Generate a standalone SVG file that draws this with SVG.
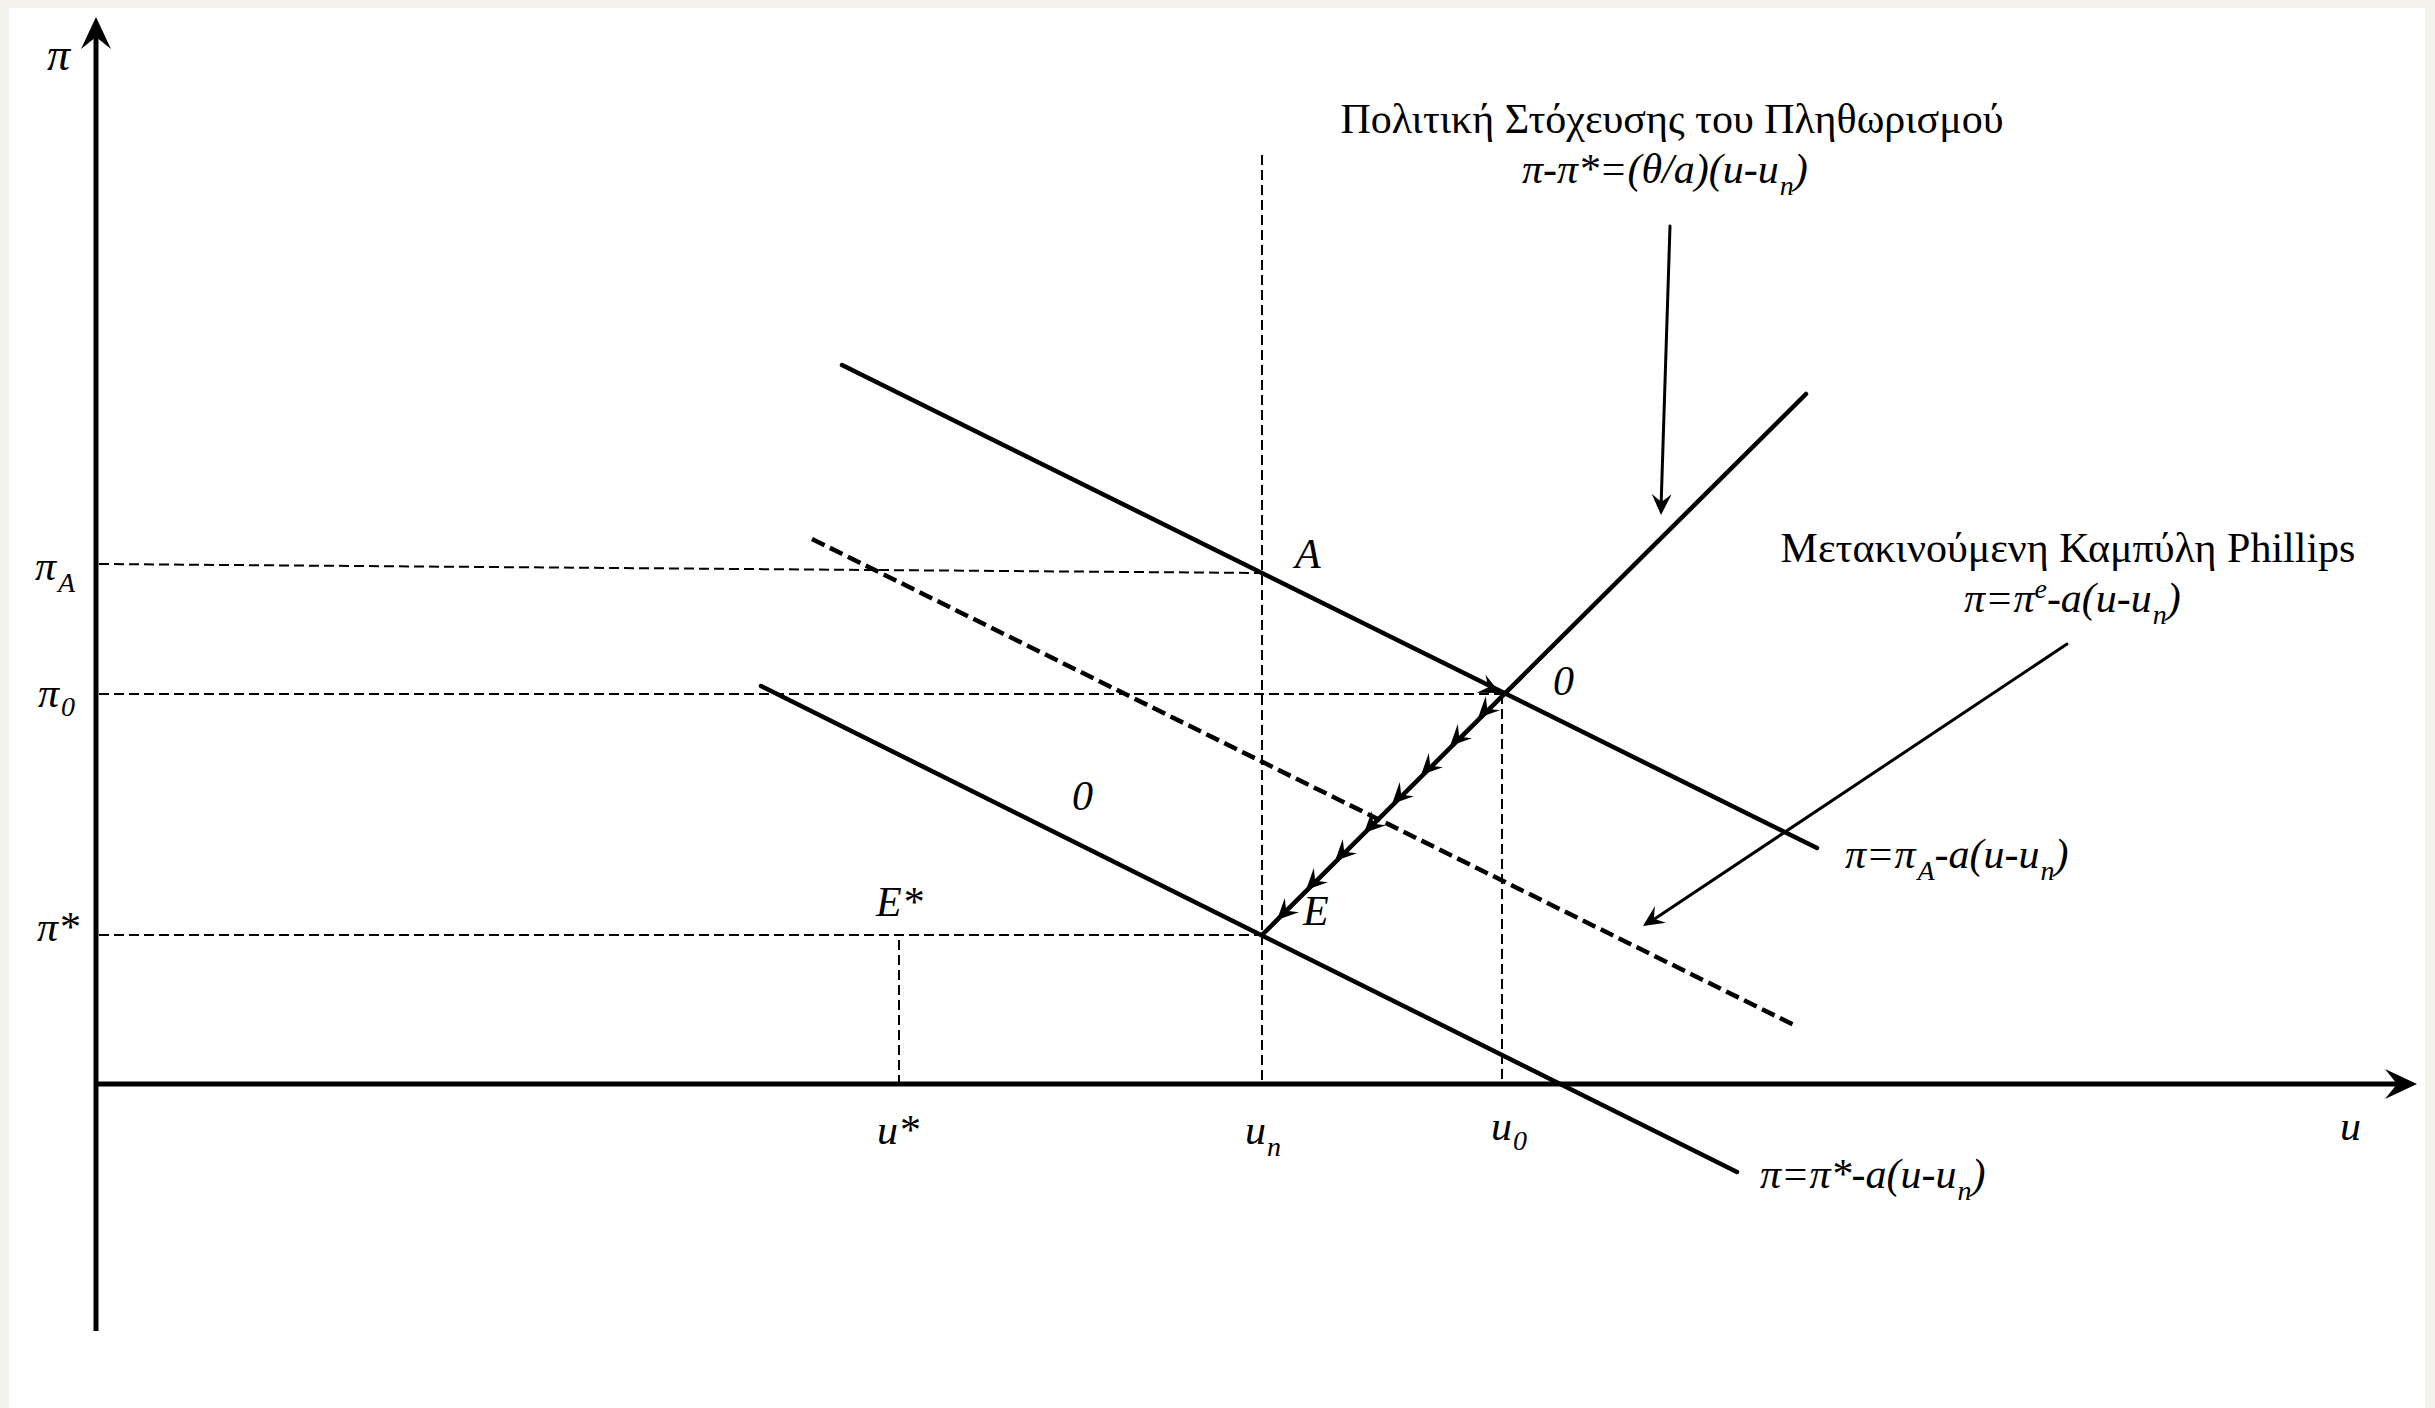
<svg xmlns="http://www.w3.org/2000/svg" xmlns:xlink="http://www.w3.org/1999/xlink" width="2435" height="1408" viewBox="0 0 2435 1408">
<style>
.t{font-family:"Liberation Serif","Times New Roman",serif;font-size:42px;fill:#000}
.m{font-family:"Liberation Serif","Times New Roman",serif;font-size:42px;font-style:italic;fill:#000}
.s{font-size:28px}
.axis{stroke:#000;stroke-width:5;fill:none}
.curve{stroke:#000;stroke-width:4.5;fill:none;stroke-linecap:round}
.dcurve{stroke:#000;stroke-width:4.5;fill:none;stroke-dasharray:14 6}
.guide{stroke:#000;stroke-width:2;fill:none;stroke-dasharray:10 5}
.ptr{stroke:#000;stroke-width:3;fill:none;stroke-linecap:round}
</style>
<defs>
<path id="axhead" d="M0,0 L-32,-15 L-20,0 L-32,15 Z" fill="#000"/>
<path id="head" d="M0,0 L-21,-10 L-13,0 L-21,10 Z" fill="#000"/>
</defs>
<rect x="0" y="0" width="2435" height="1408" fill="#f3f1ec"/>
<rect x="9" y="8" width="2416" height="1400" fill="#ffffff"/>

<g id="connectors">
  <line class="axis" x1="96" y1="1331" x2="96" y2="30"/>
  <use xlink:href="#axhead" transform="translate(96,17) rotate(-90)"/>
  <line class="axis" x1="96" y1="1084" x2="2404" y2="1084"/>
  <use xlink:href="#axhead" transform="translate(2417,1084)"/>
  <line class="guide" x1="99" y1="564" x2="1262" y2="573"/>
  <line class="guide" x1="99" y1="694" x2="1502" y2="694"/>
  <line class="guide" x1="99" y1="935" x2="1262" y2="935"/>
  <line class="guide" x1="1262" y1="155" x2="1262" y2="1082"/>
  <line class="guide" x1="1502" y1="694" x2="1502" y2="1082"/>
  <line class="guide" x1="899" y1="940" x2="899" y2="1082"/>
  <line class="curve" x1="842" y1="365" x2="1817" y2="848"/>
  <line class="dcurve" x1="812" y1="539" x2="1794" y2="1025"/>
  <line class="curve" x1="761" y1="686" x2="1737" y2="1172"/>
  <line class="curve" x1="1262" y1="935" x2="1806" y2="394"/>
  <use xlink:href="#head" transform="translate(1500,693) rotate(26)"/>
  <use xlink:href="#head" transform="translate(1478,718) rotate(135)"/>
  <use xlink:href="#head" transform="translate(1450,746) rotate(135)"/>
  <use xlink:href="#head" transform="translate(1421,775) rotate(135)"/>
  <use xlink:href="#head" transform="translate(1392,804) rotate(135)"/>
  <use xlink:href="#head" transform="translate(1364,833) rotate(135)"/>
  <use xlink:href="#head" transform="translate(1335,861) rotate(135)"/>
  <use xlink:href="#head" transform="translate(1306,890) rotate(135)"/>
  <use xlink:href="#head" transform="translate(1277,920) rotate(135)"/>
  <line class="ptr" x1="1670" y1="226" x2="1661" y2="508"/>
  <use xlink:href="#head" transform="translate(1661,515) rotate(91.8)"/>
  <line class="ptr" x1="2067" y1="644" x2="1650" y2="922"/>
  <use xlink:href="#head" transform="translate(1643,926) rotate(146.4)"/>
</g>

<g id="axis-pi"><text class="m" x="47" y="70" style="font-size:46px">π</text></g>
<g id="axis-u"><text class="m" x="2340" y="1140">u</text></g>
<g id="label-piA"><text class="m" x="35" y="580">π<tspan class="s" dx="2" dy="12">A</tspan></text></g>
<g id="label-pi0"><text class="m" x="38" y="707">π<tspan class="s" dx="2" dy="9">0</tspan></text></g>
<g id="label-pistar"><text class="m" x="37" y="941">π*</text></g>
<g id="label-ustar"><text class="m" x="877" y="1144">u*</text></g>
<g id="label-un"><text class="m" x="1245" y="1144">u<tspan class="s" dx="1" dy="12">n</tspan></text></g>
<g id="label-u0"><text class="m" x="1491" y="1140">u<tspan class="s" dx="1" dy="10">0</tspan></text></g>
<g id="point-Estar"><text class="m" x="876" y="916">E*</text></g>
<g id="point-E"><text class="m" x="1303" y="925">E</text></g>
<g id="point-A"><text class="m" x="1295" y="568">A</text></g>
<g id="point-0"><text class="m" x="1553" y="695">0</text></g>
<g id="label-0-low"><text class="m" x="1072" y="810">0</text></g>

<g id="policy-label">
  <text class="t" x="1672" y="133" text-anchor="middle">Πολιτική Στόχευσης του Πληθωρισμού</text>
  <text class="m" x="1522" y="183">π-π*=(θ/a)(u-u<tspan class="s" dx="1" dy="12">n</tspan><tspan dy="-12">)</tspan></text>
</g>
<g id="phillips-label">
  <text class="t" x="2068" y="562" text-anchor="middle">Μετακινούμενη Καμπύλη Phillips</text>
  <text class="m" x="1964" y="612">π=π<tspan class="s" dy="-14">e</tspan><tspan dy="14">-a(u-u</tspan><tspan class="s" dx="1" dy="12">n</tspan><tspan dy="-12">)</tspan></text>
</g>
<g id="curveA-label">
  <text class="m" x="1845" y="868">π=π<tspan class="s" dx="2" dy="12">A</tspan><tspan dy="-12">-a(u-u</tspan><tspan class="s" dx="1" dy="12">n</tspan><tspan dy="-12">)</tspan></text>
</g>
<g id="curveStar-label">
  <text class="m" x="1760" y="1188">π=π*-a(u-u<tspan class="s" dx="1" dy="12">n</tspan><tspan dy="-12">)</tspan></text>
</g>
</svg>
